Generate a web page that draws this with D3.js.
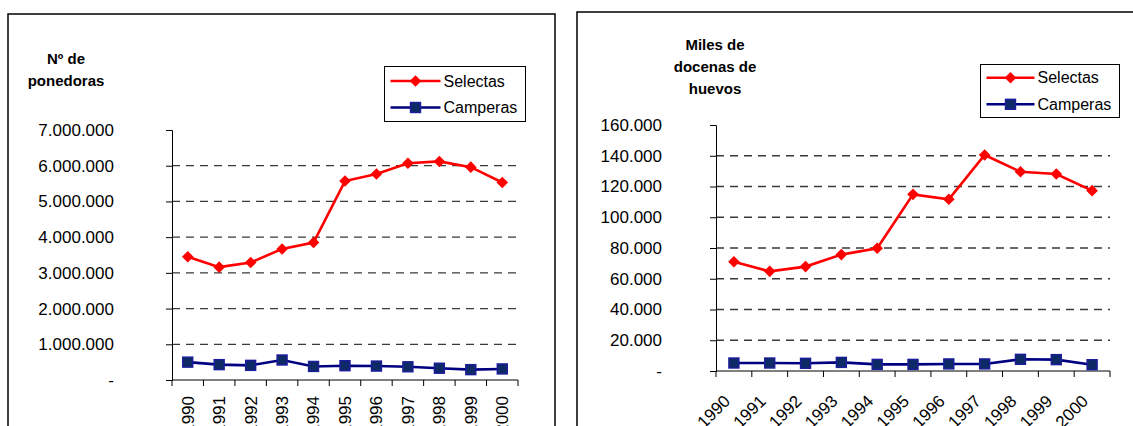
<!DOCTYPE html>
<html><head><meta charset="utf-8">
<script src="https://cdn.jsdelivr.net/npm/d3@7"></script>
<style>body{margin:0;background:#fff}svg{display:block}text{font-family:"Liberation Sans",Arial,sans-serif;fill:#000}</style>
</head><body>
<svg id="c" width="1133" height="426"></svg>
<script>
const years = ["1990","1991","1992","1993","1994","1995","1996","1997","1998","1999","2000"];
// Left chart: Nº de ponedoras
const ponSelectas = [3450000,3160000,3290000,3670000,3850000,5570000,5770000,6070000,6120000,5960000,5530000];
const ponCamperas = [500000,430000,410000,560000,380000,400000,390000,370000,330000,290000,310000];
const ponTicks = [0,1000000,2000000,3000000,4000000,5000000,6000000,7000000];
// Right chart: Miles de docenas de huevos
const hueSelectas = [71100,64800,67900,75700,79800,114900,111700,140500,129600,128100,117300];
const hueCamperas = [5200,5200,5000,5600,4300,4300,4600,4600,7600,7400,4100];
const hueTicks = [0,20000,40000,60000,80000,100000,120000,140000,160000];
const seriesNames = ["Selectas","Camperas"];

const loc = d3.formatLocale({decimal:",",thousands:".",grouping:[3],currency:["",""]});
const fmt = v => v === 0 ? "-" : loc.format(",.0f")(v);
const svg = d3.select("#c");

function diamond(r){return `M0,${-r}L${r},0L0,${r}L${-r},0Z`;}

function chart(o){
  const g = svg.append("g");
  g.append("rect").attr("x",o.box[0]).attr("y",o.box[1]).attr("width",o.box[2]).attr("height",o.box[3])
    .attr("fill","#fff").attr("stroke","#000").attr("stroke-width",1.5);
  const x = d3.scaleBand().domain(years).range([o.x0,o.x1]);
  const y = d3.scaleLinear().domain([0,o.max]).range([o.y0,o.y1]);
  // gridlines
  g.selectAll(".grid").data(o.ticks.filter(t=>t>0 && t<o.max)).join("line")
    .attr("x1",o.x0).attr("x2",o.x1).attr("y1",d=>y(d)).attr("y2",d=>y(d))
    .attr("stroke","#3a3a3a").attr("stroke-width",1.3).attr("stroke-dasharray","8,6");
  // y axis
  const ya = g.append("g").attr("transform",`translate(${o.x0},0)`)
    .call(d3.axisLeft(y).tickValues(o.ticks).tickFormat(fmt).tickSize(6).tickPadding(o.pad));
  ya.select(".domain").attr("stroke","#000");
  ya.selectAll(".tick line").attr("stroke","#000");
  ya.selectAll("text").style("font-size","17px").attr("fill","#000");
  // x axis with ticks at category boundaries
  const xa = g.append("g");
  xa.append("line").attr("x1",o.x0).attr("x2",o.x1).attr("y1",o.y0).attr("y2",o.y0).attr("stroke","#000");
  const bounds = years.map(d=>x(d)).concat([x(years[years.length-1])+x.bandwidth()]);
  xa.selectAll(".xt").data(bounds).join("line").attr("x1",d=>d).attr("x2",d=>d)
    .attr("y1",o.y0).attr("y2",o.y0+6).attr("stroke","#000");
  xa.selectAll(".xl").data(years).join("text")
    .attr("transform",d=>`translate(${x(d)+x.bandwidth()/2+o.lx},${o.y0+o.ly}) rotate(${o.rot})`)
    .attr("text-anchor","end").attr("dy","0.35em").style("font-size","17px").text(d=>d);
  // lines
  const line = d3.line().x((d,i)=>x(years[i])+x.bandwidth()/2).y(d=>y(d));
  g.append("path").datum(o.sel).attr("d",line).attr("fill","none").attr("stroke","#ff0000").attr("stroke-width",2.6);
  g.append("path").datum(o.cam).attr("d",line).attr("fill","none").attr("stroke","#000080").attr("stroke-width",2.6);
  g.selectAll(".dm").data(o.sel).join("path")
    .attr("transform",(d,i)=>`translate(${x(years[i])+x.bandwidth()/2},${y(d)})`)
    .attr("d",diamond(5.8)).attr("fill","#ff0000");
  g.selectAll(".sq").data(o.cam).join("rect")
    .attr("x",(d,i)=>x(years[i])+x.bandwidth()/2-5).attr("y",d=>y(d)-5)
    .attr("width",10).attr("height",10).attr("fill","#0d2a66").attr("stroke","#1c1c9c").attr("stroke-width",1.4);
  // title
  const t = g.append("text").attr("text-anchor","middle").style("font-size","15px").style("font-weight","bold");
  o.title.forEach((s,i)=>t.append("tspan").attr("x",o.tx).attr("y",o.ty+i*o.tl).text(s));
  // legend
  const L = o.leg;
  g.append("rect").attr("x",L[0]).attr("y",L[1]).attr("width",L[2]).attr("height",L[3])
    .attr("fill","#fff").attr("stroke","#000").attr("stroke-width",1);
  const items = [{n:seriesNames[0],c:"#ff0000",m:"d"},{n:seriesNames[1],c:"#000080",m:"s"}];
  items.forEach((it,i)=>{
    const yy = L[1]+o.legOff+i*o.legStep;
    const lx0 = L[0]+6, lx1 = L[0]+6+o.legLine;
    g.append("line").attr("x1",lx0).attr("x2",lx1).attr("y1",yy).attr("y2",yy).attr("stroke",it.c).attr("stroke-width",2.6);
    const cx=(lx0+lx1)/2;
    if(it.m==="d") g.append("path").attr("transform",`translate(${cx},${yy})`).attr("d",diamond(5.8)).attr("fill","#ff0000");
    else g.append("rect").attr("x",cx-5).attr("y",yy-5).attr("width",10).attr("height",10).attr("fill","#0d2a66").attr("stroke","#1c1c9c").attr("stroke-width",1.4);
    g.append("text").attr("x",lx1+3).attr("y",yy).attr("dy","0.35em").style("font-size","16px").text(it.n);
  });
}

chart({box:[8,14,547,440],x0:172,x1:518,y0:380,y1:130,max:7000000,ticks:ponTicks,pad:52,
  sel:ponSelectas,cam:ponCamperas,lx:0,ly:16,rot:-90,
  title:["Nº de","ponedoras"],tx:66,ty:64,tl:22,
  leg:[384.5,66.5,141,55],legOff:14.5,legStep:26.5,legLine:50});
chart({box:[577,12,600,440],x0:716,x1:1110,y0:371,y1:125,max:160000,ticks:hueTicks,pad:48,
  sel:hueSelectas,cam:hueCamperas,lx:-7,ly:27,rot:-45,
  title:["Miles de","docenas de","huevos"],tx:715,ty:50,tl:22,
  leg:[980.5,64.5,139,53],legOff:13.2,legStep:26.6,legLine:48});
</script>
</body></html>
